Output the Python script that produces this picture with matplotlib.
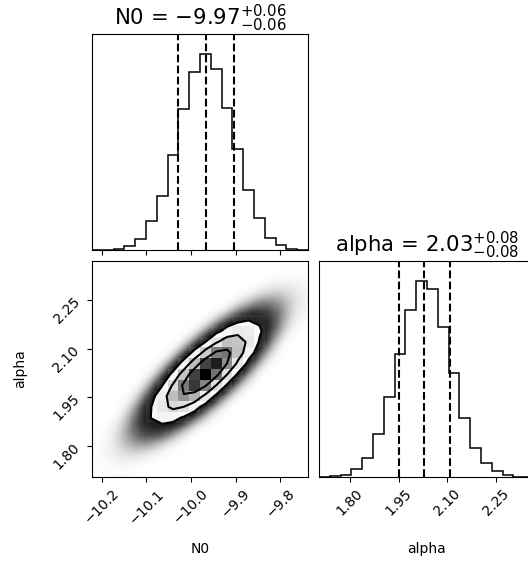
import numpy as np
import matplotlib
matplotlib.use("Agg")
import matplotlib.pyplot as plt
from matplotlib.colors import LinearSegmentedColormap, ListedColormap

# ---- data ----
n0_range = (-10.222, -9.738)
alpha_range = (1.705, 2.369)
n_bins = 20

# 1D histograms (step heights, arbitrary units)
n0_counts = [0, 1, 3, 13, 33, 86, 163, 285, 423, 533, 588, 541, 426, 303, 181, 96, 36, 16, 3, 0]
alpha_counts = [0, 3, 7, 23, 58, 128, 240, 370, 503, 591, 565, 451, 313, 178, 88, 41, 18, 6, 1, 0]

# 16 / 50 / 84 % quantiles
n0_q = [-10.029, -9.967, -9.903]
alpha_q = [1.950, 2.0285, 2.108]

# joint 2D histogram, rows = alpha bins (bottom -> top), columns = N0 bins (left -> right)
joint_counts = [
    [1, 3, 3, 3, 1, 0, 0, 0, 0, 0, 0, 0, 0, 0, 0, 0, 0, 0, 0, 0],
    [2, 7, 13, 15, 11, 6, 2, 0, 0, 0, 0, 0, 0, 0, 0, 0, 0, 0, 0, 0],
    [3, 11, 31, 53, 59, 42, 19, 6, 1, 0, 0, 0, 0, 0, 0, 0, 0, 0, 0, 0],
    [2, 11, 43, 110, 180, 188, 127, 55, 15, 3, 0, 0, 0, 0, 0, 0, 0, 0, 0, 0],
    [1, 6, 37, 138, 331, 510, 505, 321, 131, 34, 6, 1, 0, 0, 0, 0, 0, 0, 0, 0],
    [0, 2, 19, 103, 364, 826, 1204, 1126, 676, 261, 65, 10, 1, 0, 0, 0, 0, 0, 0, 0],
    [0, 0, 6, 46, 240, 801, 1717, 2364, 2089, 1186, 432, 101, 15, 1, 0, 0, 0, 0, 0, 0],
    [0, 0, 1, 12, 95, 465, 1466, 2969, 3862, 3225, 1729, 595, 132, 19, 2, 0, 0, 0, 0, 0],
    [0, 0, 0, 2, 22, 161, 749, 2232, 4271, 5249, 4143, 2099, 683, 143, 19, 2, 0, 0, 0, 0],
    [0, 0, 0, 0, 3, 33, 229, 1004, 2827, 5113, 5937, 4427, 2120, 652, 129, 16, 1, 0, 0, 0],
    [0, 0, 0, 0, 0, 4, 42, 270, 1120, 2980, 5092, 5588, 3937, 1781, 517, 97, 12, 1, 0, 0],
    [0, 0, 0, 0, 0, 0, 5, 43, 265, 1039, 2613, 4220, 4376, 2913, 1245, 342, 60, 7, 0, 0],
    [0, 0, 0, 0, 0, 0, 0, 4, 38, 217, 802, 1907, 2910, 2851, 1793, 724, 188, 31, 3, 0],
    [0, 0, 0, 0, 0, 0, 0, 0, 3, 27, 147, 516, 1158, 1669, 1545, 919, 351, 86, 14, 1],
    [0, 0, 0, 0, 0, 0, 0, 0, 0, 2, 16, 83, 276, 585, 797, 697, 392, 141, 33, 5],
    [0, 0, 0, 0, 0, 0, 0, 0, 0, 0, 1, 8, 39, 123, 246, 317, 262, 139, 47, 10],
    [0, 0, 0, 0, 0, 0, 0, 0, 0, 0, 0, 0, 3, 15, 45, 86, 105, 82, 41, 13],
    [0, 0, 0, 0, 0, 0, 0, 0, 0, 0, 0, 0, 0, 1, 5, 14, 25, 29, 21, 10],
    [0, 0, 0, 0, 0, 0, 0, 0, 0, 0, 0, 0, 0, 0, 0, 1, 4, 6, 7, 5],
    [0, 0, 0, 0, 0, 0, 0, 0, 0, 0, 0, 0, 0, 0, 0, 0, 0, 1, 1, 1],
]

n0_ticks = [-10.2, -10.1, -10.0, -9.9, -9.8]
alpha_ticks = [1.80, 1.95, 2.10, 2.25]
labels = ["N0", "alpha"]

# ---- layout ----
W, HPX = 528, 563


def rect(x0, y0, x1, y1):
    return [x0 / W, 1 - y1 / HPX, (x1 - x0) / W, (y1 - y0) / HPX]


fig = plt.figure(figsize=(W / 100, HPX / 100), dpi=100)
ax_tl = fig.add_axes(rect(92, 34, 308, 250))
ax_bl = fig.add_axes(rect(92, 261, 308, 477))
ax_br = fig.add_axes(rect(319, 261, 535, 477))

xe = np.linspace(n0_range[0], n0_range[1], n_bins + 1)
ye = np.linspace(alpha_range[0], alpha_range[1], n_bins + 1)
xc = 0.5 * (xe[1:] + xe[:-1])
yc = 0.5 * (ye[1:] + ye[:-1])


def hist1d(ax, counts, edges, q, name):
    ax.stairs(counts, edges, color="k", lw=1.1)
    for v in q:
        ax.axvline(v, ls="dashed", color="k", lw=1.5)
    ax.set_xlim(edges[0], edges[-1])
    ax.set_ylim(0, 1.1 * max(counts))
    ax.set_yticks([])
    lo, mid, hi = q
    ax.set_title(r"%s = $%.2f_{-%.2f}^{+%.2f}$" % (name, mid, mid - lo, hi - mid), fontsize=15.3)


hist1d(ax_tl, n0_counts, xe, n0_q, labels[0])
hist1d(ax_br, alpha_counts, ye, alpha_q, labels[1])
ax_tl.set_xticks(n0_ticks)
ax_tl.set_xticklabels([])

# ---- 2D panel ----
H = np.array(joint_counts, dtype=float)
Hm = H.max()

# sample cloud, shown as an opacity field
L = np.log10(H + 0.05)
lv = np.linspace(-1.5, 4, 256)
op = 1 - np.exp(-0.005 * 10**lv)
cmap_cloud = ListedColormap(np.column_stack([np.zeros((256, 3)), op]))
ax_bl.imshow(L, origin="lower", extent=[xe[0], xe[-1], ye[0], ye[-1]], aspect="auto",
             cmap=cmap_cloud, vmin=-1.5, vmax=4, interpolation="bicubic", zorder=0)

# contour levels at 0.5, 1, 1.5, 2 sigma
levels = 1.0 - np.exp(-0.5 * np.arange(0.5, 2.1, 0.5) ** 2)
Hflat = np.sort(H.flatten())[::-1]
sm = np.cumsum(Hflat) / Hflat.sum()
V = np.array([Hflat[sm <= v0][-1] for v0 in levels])
V.sort()

H2 = np.zeros((H.shape[0] + 4, H.shape[1] + 4))
H2[2:-2, 2:-2] = H
H2[2:-2, 1] = H[:, 0]
H2[2:-2, -2] = H[:, -1]
H2[1, 2:-2] = H[0]
H2[-2, 2:-2] = H[-1]
X2 = np.concatenate([xc[0] + np.array([-2, -1]) * (xc[1] - xc[0]), xc, xc[-1] + np.array([1, 2]) * (xc[1] - xc[0])])
Y2 = np.concatenate([yc[0] + np.array([-2, -1]) * (yc[1] - yc[0]), yc, yc[-1] + np.array([1, 2]) * (yc[1] - yc[0])])

ax_bl.contourf(X2, Y2, H2, [V.min(), Hm], colors=["white"], antialiased=False, zorder=1)
density_cmap = LinearSegmentedColormap.from_list("density_cmap", ["k", (1, 1, 1, 0)])
ax_bl.pcolormesh(xe, ye, Hm - H, cmap=density_cmap, zorder=2)
ax_bl.contour(X2, Y2, H2, V, colors="k", linewidths=1.5, zorder=3)
ax_bl.set_xlim(xe[0], xe[-1])
ax_bl.set_ylim(ye[0], ye[-1])

# ---- ticks and labels ----
for ax, ticks in [(ax_bl, n0_ticks), (ax_br, alpha_ticks)]:
    ax.set_xticks(ticks)
    for t in ax.get_xticklabels():
        t.set_rotation(45)
        t.set_fontsize(10)
ax_bl.set_yticks(alpha_ticks)
for t in ax_bl.get_yticklabels():
    t.set_rotation(45)
    t.set_fontsize(10)

ax_bl.set_xlabel(labels[0], fontsize=10)
ax_bl.xaxis.set_label_coords(0.5, -0.3)
ax_bl.set_ylabel(labels[1], fontsize=10)
ax_bl.yaxis.set_label_coords(-0.3, 0.5)
ax_br.set_xlabel(labels[1], fontsize=10)
ax_br.xaxis.set_label_coords(0.5, -0.3)

fig.savefig("out.png", dpi=100)
